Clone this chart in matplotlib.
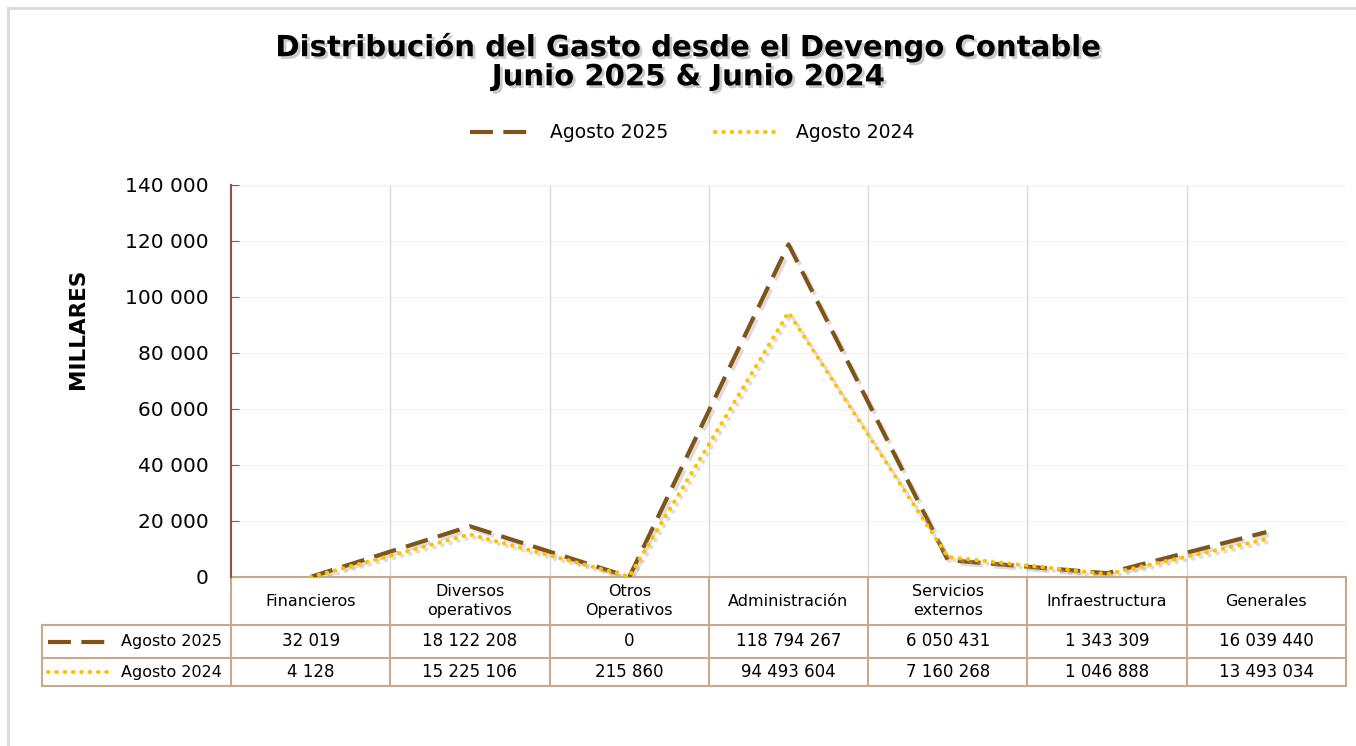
import numpy as np
import matplotlib.pyplot as plt
import matplotlib.patheffects as pe
from matplotlib.lines import Line2D

categorias = ['Financieros', 'Diversos\noperativos', 'Otros\nOperativos', 'Administración',
              'Servicios\nexternos', 'Infraestructura', 'Generales']
agosto_2025 = [32019, 18122208, 0, 118794267, 6050431, 1343309, 16039440]
agosto_2024 = [4128, 15225106, 215860, 94493604, 7160268, 1046888, 13493034]
series = ['Agosto 2025', 'Agosto 2024']
yticks = [0, 20000, 40000, 60000, 80000, 100000, 120000, 140000]

c25 = '#7f5417'
c24 = '#ffc000'
border = '#c9a98b'
style25 = dict(color=c25, lw=3, linestyle=(0, (5.5, 2.5)), dash_capstyle='butt')
style24 = dict(color=c24, lw=3, linestyle=(0, (0.1, 1.9)), dash_capstyle='round')

def fmt(v):
    return f"{v:,}".replace(",", " ")

W, H = 1356, 746
fig = plt.figure(figsize=(W / 100, H / 100), dpi=100)
ax = fig.add_axes([231 / W, 1 - 577 / H, (1346 - 231) / W, (577 - 185) / H])

x = np.arange(len(categorias))
shadow = [pe.SimpleLineShadow(offset=(2, -2), shadow_color='#aaaaaa', alpha=0.4), pe.Normal()]
ax.plot(x, np.array(agosto_2025) / 1000, path_effects=shadow, zorder=3, **style25)
ax.plot(x, np.array(agosto_2024) / 1000, path_effects=shadow, zorder=4, **style24)

ax.set_xlim(-0.5, len(categorias) - 0.5)
ax.set_ylim(0, 140000)
ax.set_yticks(yticks)
ax.set_yticklabels([fmt(t) for t in yticks], fontsize=14.5)
ax.set_xticks([])
ax.tick_params(axis='y', direction='in', length=6, color='#8b5444', pad=16)
for t in yticks[1:]:
    ax.axhline(t, color='#f2f2f2', lw=0.8, zorder=0)
for i in range(1, len(categorias)):
    ax.axvline(i - 0.5, color='#d9d9d9', lw=1, zorder=0)
for s in ['top', 'right', 'bottom']:
    ax.spines[s].set_visible(False)
ax.axhline(140000, color='#fff2cc', lw=1, zorder=0)
ax.spines['left'].set_color('#8b5444')
ax.spines['left'].set_linewidth(1.5)
ax.set_ylabel('MILLARES', fontsize=15.5, fontweight='bold')
ax.yaxis.set_label_coords((88 - 231) / 1115, (577 - 329) / 392)

# tabla de datos
tr = ax.get_xaxis_transform()
px = 1.0 / (577 - 185)
y_rows = [0, -(625 - 577) * px, -(658 - 577) * px, -(686 - 577) * px]
x_left = -0.5 - (231 - 42) / 159.3
kw = dict(transform=tr, clip_on=False, color=border, lw=1.5)
for i in range(len(categorias) + 1):
    ax.plot([i - 0.5, i - 0.5], [y_rows[0], y_rows[3]], **kw)
ax.plot([x_left, x_left], [y_rows[1], y_rows[3]], **kw)
ax.plot([-0.5, 6.5], [y_rows[0], y_rows[0]], **kw)
for yy in y_rows[1:]:
    ax.plot([x_left, 6.5], [yy, yy], **kw)

for i, c in enumerate(categorias):
    ax.text(i, (y_rows[0] + y_rows[1]) / 2, c, transform=tr, ha='center', va='center',
            fontsize=11.5, linespacing=1.3)
for r, (vals, st, name) in enumerate([(agosto_2025, style25, series[0]),
                                      (agosto_2024, style24, series[1])]):
    yc = (y_rows[r + 1] + y_rows[r + 2]) / 2
    for i, v in enumerate(vals):
        ax.text(i, yc, fmt(v), transform=tr, ha='center', va='center', fontsize=12)
    ax.plot([x_left + 0.04, x_left + 0.42], [yc, yc], transform=tr, clip_on=False, **st)
    ax.text(-0.56, yc, name, transform=tr, ha='right', va='center', fontsize=11.5)

# titulo y leyenda
title = fig.text(688 / W, 1 - 62 / H,
                 'Distribución del Gasto desde el Devengo Contable\nJunio 2025 & Junio 2024',
                 ha='center', va='center', fontsize=21, fontweight='bold', linespacing=1.05)
title.set_path_effects([pe.withSimplePatchShadow(offset=(2, -2), shadow_rgbFace='#999999', alpha=0.5)])

handles = [Line2D([], [], **style25), Line2D([], [], **style24)]
fig.legend(handles, series, loc='center', bbox_to_anchor=(692 / W, 1 - 133 / H), ncol=2,
           frameon=False, fontsize=13.5, handlelength=3.5, columnspacing=2.5)

# marco
fig.add_artist(Line2D([8 / W, 1], [1 - 8 / H, 1 - 8 / H], color='#d9d9d9', lw=2, transform=fig.transFigure))
fig.add_artist(Line2D([8 / W, 8 / W], [0, 1 - 8 / H], color='#d9d9d9', lw=2, transform=fig.transFigure))

fig.savefig('out.png', dpi=100)
